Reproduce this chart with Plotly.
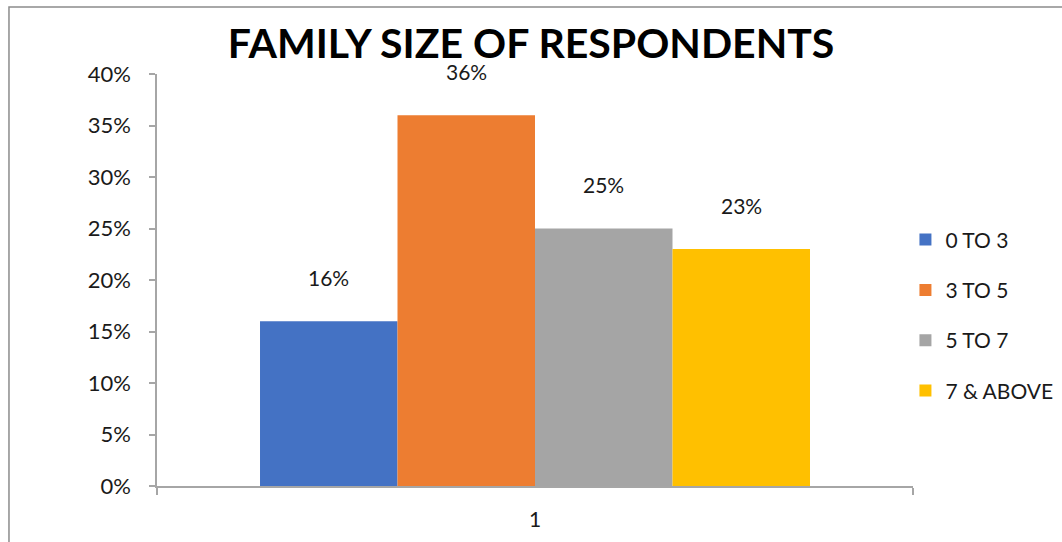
import plotly.graph_objects as go

# Family size groups and share of respondents
categories = ["1"]
groups = ["0 TO 3", "3 TO 5", "5 TO 7", "7 & ABOVE"]
shares = [0.16, 0.36, 0.25, 0.23]
colors = ["#4472C4", "#ED7D31", "#A5A5A5", "#FFC000"]

FONT = "Lato"
AXIS_GREY = "#A6A6A6"
PLOT_W = 1062 - 157 - 149
BARGAP = 0.2725
BAR_PX = (1 - BARGAP) * PLOT_W / len(groups)

fig = go.Figure()
for i, (name, val, col) in enumerate(zip(groups, shares, colors)):
    fig.add_trace(go.Bar(
        x=categories, y=[val], name=name, marker_color=col,
        marker_line_width=0, legendgroup=f"g{i}",
    ))
    # value label floating above each bar (category index 0, shifted to the bar's slot)
    fig.add_annotation(
        x=0, y=val, text=f"{val:.0%}", showarrow=False,
        xref="x", yref="y", yshift=44,
        xshift=(i - (len(groups) - 1) / 2) * BAR_PX,
        font=dict(family=FONT, size=21, color="#1a1a1a"),
    )

fig.update_layout(
    width=1062, height=542,
    margin=dict(l=157, r=149, t=74, b=56, autoexpand=False),
    paper_bgcolor="white", plot_bgcolor="white",
    barmode="group", bargap=BARGAP, bargroupgap=0,
    font=dict(family=FONT, color="#1a1a1a"),
    title=dict(
        text="<b>FAMILY SIZE OF RESPONDENTS</b>",
        x=0.5, xanchor="center", y=0.92, yanchor="middle",
        font=dict(family=FONT, size=41, color="black"),
    ),
    legend=dict(
        x=0.99, xanchor="left", y=0.414, yanchor="middle",
        traceorder="grouped", tracegroupgap=20,
        font=dict(family=FONT, size=21, color="#1a1a1a"),
        bgcolor="rgba(0,0,0,0)",
    ),
    xaxis=dict(
        type="category", range=[-0.5, 0.5], showgrid=False, showline=True,
        linecolor=AXIS_GREY, linewidth=1.5, ticks="outside",
        tickson="boundaries", ticklen=7, tickcolor=AXIS_GREY, tickwidth=1.5,
        ticklabelstandoff=14,
        tickfont=dict(family=FONT, size=21, color="#1a1a1a"),
    ),
    yaxis=dict(
        range=[0, 0.4], dtick=0.05, tickformat=".0%", showgrid=False,
        showline=True, linecolor=AXIS_GREY, linewidth=1.5, ticks="outside",
        ticklen=6, tickcolor=AXIS_GREY, tickwidth=1.5, ticklabelstandoff=14,
        tickfont=dict(family=FONT, size=22, color="#1a1a1a"), zeroline=False,
    ),
)

# chart-area frame
fig.add_shape(
    type="rect", xref="paper", yref="paper",
    x0=-0.1958, y0=-1.0, x1=2.0, y1=1.1626,
    line=dict(color="#8C8C8C", width=1.5), fillcolor="rgba(0,0,0,0)", layer="below",
)

fig.write_html("out.html")
